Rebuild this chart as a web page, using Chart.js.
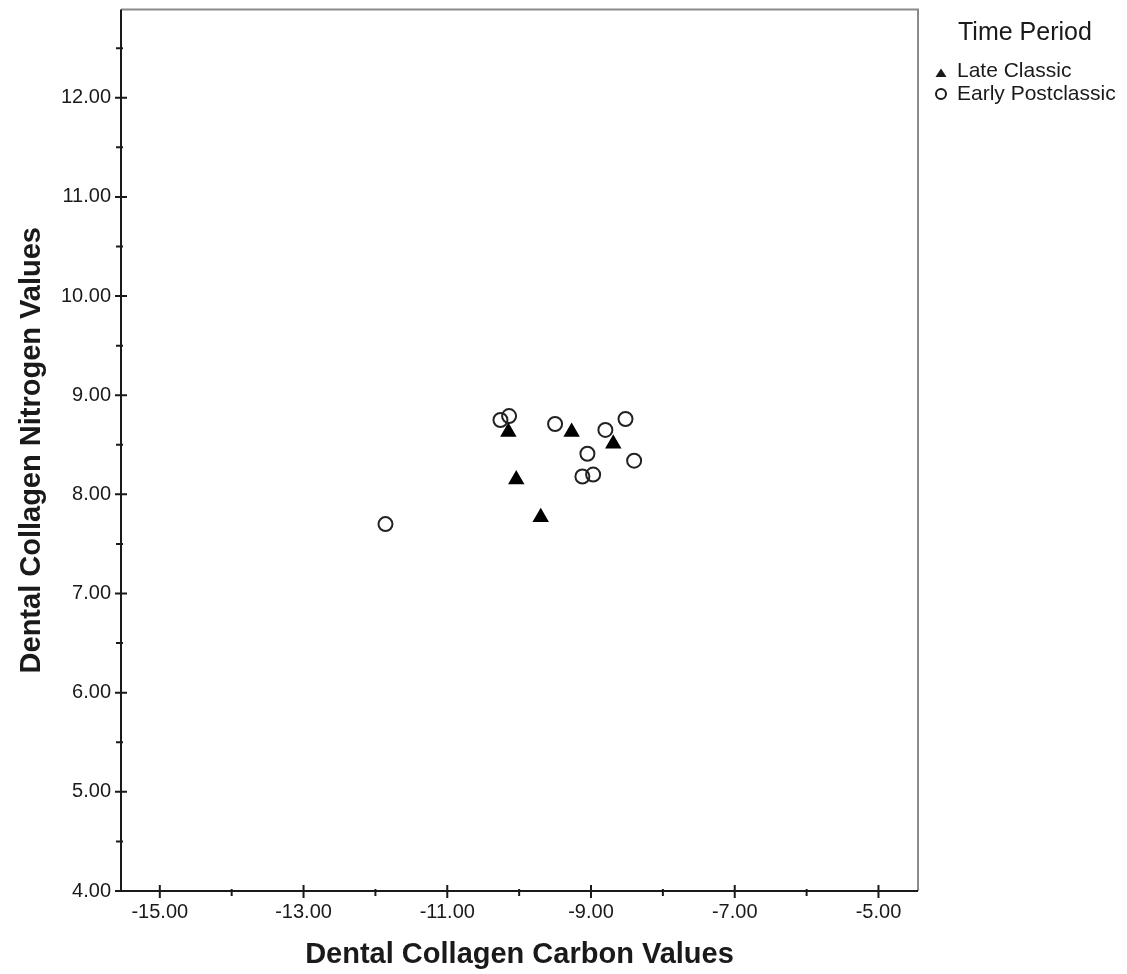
<!DOCTYPE html>
<html lang="en">
<head>
<meta charset="UTF-8" />
<title>Dental Collagen Isotope Values</title>
<script src="https://cdn.jsdelivr.net/npm/chart.js"></script>
<style>
  html, body { margin: 0; padding: 0; background: #ffffff; }
  #scatter { display: block; }
</style>
</head>
<body>
<canvas id="scatter" width="1127" height="974"></canvas>
<script>
  // carbon (x) and nitrogen (y) values per time period
  const lateClassicCarbon = [-10.15, -9.27, -8.69, -10.04, -9.70];
  const lateClassicNitrogen = [8.63, 8.63, 8.51, 8.15, 7.77];
  const earlyPostCarbon = [-11.86, -10.26, -10.14, -9.50, -8.80, -8.52, -9.05, -9.12, -8.97, -8.40];
  const earlyPostNitrogen = [7.70, 8.75, 8.79, 8.71, 8.65, 8.76, 8.41, 8.18, 8.20, 8.34];

  const seriesLabels = ['Late Classic', 'Early Postclassic'];
  const legendTitle = 'Time Period';

  const xMajorTicks = [-15, -13, -11, -9, -7, -5];
  const xMinorTicks = [-14, -12, -10, -8, -6];
  const yMajorTicks = [4, 5, 6, 7, 8, 9, 10, 11, 12];
  const yMinorTicks = [4.5, 5.5, 6.5, 7.5, 8.5, 9.5, 10.5, 11.5, 12.5];

  const FONT = '"Liberation Sans", Arial, sans-serif';
  const INK = '#1a1a1a';

  const toPoints = (xs, ys) => xs.map((x, i) => ({ x: x, y: ys[i] }));

  // keep the plot box fixed: no extra room for overhanging tick labels
  const noOverhang = s => {
    s.paddingTop = 0;
    s.paddingBottom = 0;
    s.paddingLeft = 0;
    s.paddingRight = 0;
  };

  // black left/bottom axes, grey top/right frame, SPSS style tick marks
  const framePlugin = {
    id: 'frame',
    beforeDatasetsDraw(chart) {
      const { ctx, chartArea: a, scales } = chart;
      ctx.save();
      ctx.lineWidth = 2;
      ctx.strokeStyle = '#8a8a8a';
      ctx.beginPath();
      ctx.moveTo(a.left, a.top);
      ctx.lineTo(a.right, a.top);
      ctx.lineTo(a.right, a.bottom);
      ctx.stroke();

      ctx.strokeStyle = INK;
      ctx.beginPath();
      ctx.moveTo(a.left, a.top);
      ctx.lineTo(a.left, a.bottom);
      ctx.lineTo(a.right, a.bottom);
      ctx.stroke();

      ctx.beginPath();
      xMajorTicks.forEach(v => {
        const px = scales.x.getPixelForValue(v);
        ctx.moveTo(px, a.bottom - 6);
        ctx.lineTo(px, a.bottom + 7);
      });
      xMinorTicks.forEach(v => {
        const px = scales.x.getPixelForValue(v);
        ctx.moveTo(px, a.bottom - 2);
        ctx.lineTo(px, a.bottom + 5);
      });
      yMajorTicks.forEach(v => {
        const py = scales.y.getPixelForValue(v);
        ctx.moveTo(a.left - 6, py);
        ctx.lineTo(a.left + 6, py);
      });
      yMinorTicks.forEach(v => {
        const py = scales.y.getPixelForValue(v);
        ctx.moveTo(a.left - 5, py);
        ctx.lineTo(a.left + 2, py);
      });
      ctx.stroke();
      ctx.restore();
    }
  };

  // legend box on the right
  const legendPlugin = {
    id: 'sideLegend',
    afterDraw(chart) {
      const { ctx } = chart;
      ctx.save();
      ctx.fillStyle = INK;
      ctx.textBaseline = 'middle';
      ctx.textAlign = 'left';
      ctx.font = '25px ' + FONT;
      ctx.fillText(legendTitle, 958, 33);

      ctx.font = '21px ' + FONT;
      ctx.fillText(seriesLabels[0], 957, 71);
      ctx.fillText(seriesLabels[1], 957, 94);

      // triangle marker
      ctx.beginPath();
      ctx.moveTo(941, 68.5);
      ctx.lineTo(946.5, 77);
      ctx.lineTo(935.5, 77);
      ctx.closePath();
      ctx.fill();

      // circle marker
      ctx.strokeStyle = INK;
      ctx.lineWidth = 2;
      ctx.beginPath();
      ctx.arc(941, 94, 5, 0, Math.PI * 2);
      ctx.stroke();
      ctx.restore();
    }
  };

  const chart = new Chart(document.getElementById('scatter'), {
    type: 'scatter',
    data: {
      datasets: [
        {
          label: seriesLabels[0],
          data: toPoints(lateClassicCarbon, lateClassicNitrogen),
          pointStyle: 'triangle',
          pointRadius: 8,
          pointBackgroundColor: '#000000',
          pointBorderColor: '#000000',
          pointBorderWidth: 1.5
        },
        {
          label: seriesLabels[1],
          data: toPoints(earlyPostCarbon, earlyPostNitrogen),
          pointStyle: 'circle',
          pointRadius: 7,
          pointBackgroundColor: 'rgba(0,0,0,0)',
          pointBorderColor: '#222222',
          pointBorderWidth: 2
        }
      ]
    },
    options: {
      responsive: false,
      animation: false,
      events: [],
      layout: { padding: { top: 8, right: 209, left: 0, bottom: 0 } },
      plugins: {
        legend: { display: false },
        tooltip: { enabled: false }
      },
      scales: {
        x: {
          type: 'linear',
          min: -15.54,
          max: -4.45,
          afterFit(s) { s.height = 83; noOverhang(s); },
          afterBuildTicks(s) { s.ticks = xMajorTicks.map(v => ({ value: v })); },
          grid: { display: false, drawTicks: false },
          border: { display: false },
          ticks: {
            autoSkip: false,
            maxRotation: 0,
            padding: 9,
            color: INK,
            font: { family: FONT, size: 20 },
            callback: v => v.toFixed(2)
          },
          title: {
            display: true,
            text: 'Dental Collagen Carbon Values',
            color: INK,
            font: { family: FONT, size: 29, weight: 'bold' },
            padding: { top: 0, bottom: 2 }
          }
        },
        y: {
          type: 'linear',
          min: 4,
          max: 12.89,
          afterFit(s) { s.width = 121; noOverhang(s); },
          afterBuildTicks(s) { s.ticks = yMajorTicks.map(v => ({ value: v })); },
          grid: { display: false, drawTicks: false },
          border: { display: false },
          ticks: {
            autoSkip: false,
            padding: 10,
            color: INK,
            font: { family: FONT, size: 20 },
            callback: v => v.toFixed(2)
          },
          title: {
            display: true,
            text: 'Dental Collagen Nitrogen Values',
            color: INK,
            font: { family: FONT, size: 29, weight: 'bold' },
            padding: { top: 15, bottom: 0 }
          }
        }
      }
    },
    plugins: [framePlugin, legendPlugin]
  });
</script>
</body>
</html>
